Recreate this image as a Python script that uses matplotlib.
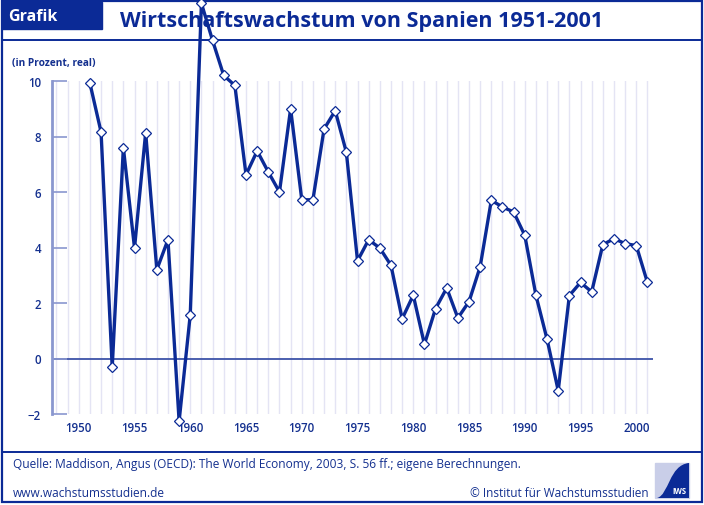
import matplotlib
matplotlib.use("Agg")
import matplotlib.pyplot as plt
from matplotlib.patches import Rectangle, PathPatch
from matplotlib.path import Path

plt.rcParams['font.family'] = ['Open Sans', 'DejaVu Sans']

years = list(range(1951, 2002))
growth = [9.92, 8.16, -0.32, 7.60, 3.98, 8.14, 3.20, 4.28, -2.26, 1.58,
          12.8, 11.46, 10.2, 9.84, 6.62, 7.48, 6.72, 6.0, 9.0, 5.72,
          5.72, 8.27, 8.93, 7.43, 3.52, 4.28, 3.98, 3.36, 1.43, 2.28,
          0.51, 1.80, 2.54, 1.46, 2.05, 3.31, 5.70, 5.46, 5.28, 4.44,
          2.28, 0.69, -1.16, 2.27, 2.74, 2.40, 4.10, 4.32, 4.14, 4.07,
          2.74]
grid_years = list(range(1948, 2002))
xticks = list(range(1950, 2001, 5))
yticks = [-2, 0, 2, 4, 6, 8, 10]

W, H = 704, 506
dark = '#0b2a96'
text_c = '#14308f'
light = '#8a97cf'

fig = plt.figure(figsize=(W / 100, H / 100), dpi=100)

# overlay for frame, header, footer
ov = fig.add_axes([0, 0, 1, 1], zorder=0)
ov.set_xlim(0, W)
ov.set_ylim(H, 0)
ov.axis('off')
ov.add_patch(Rectangle((1.5, 1.5), W - 3.5, H - 4.5, fill=False, ec=dark, lw=1.6))
ov.plot([1.5, W - 2], [40.5, 40.5], color=dark, lw=1.4)
ov.plot([1.5, W - 2], [452.5, 452.5], color=dark, lw=1.4)
ov.add_patch(Rectangle((1.5, 3), 100, 27, color=dark))
ov.text(8, 17, 'Grafik', color='white', fontsize=11.5, fontweight='bold', va='center')
ov.text(362, 21, 'Wirtschaftswachstum von Spanien 1951-2001', color=dark,
        fontsize=15.5, fontweight='bold', ha='center', va='center')
ov.text(12, 63, '(in Prozent, real)', color=text_c, fontsize=7.3, fontweight='bold', va='center')
ov.text(13, 465, 'Quelle: Maddison, Angus (OECD): The World Economy, 2003, S. 56 ff.; eigene Berechnungen.',
        color=text_c, fontsize=8.6, va='center')
ov.text(13, 494, 'www.wachstumsstudien.de', color=text_c, fontsize=8.6, va='center')
ov.text(649, 494, '\u00a9 Institut f\u00fcr Wachstumsstudien', color=text_c, fontsize=8.5,
        va='center', ha='right')

# logo
lx0, lx1, ly0, ly1 = 655, 689, 464, 499
ov.add_patch(Rectangle((lx0, ly0), lx1 - lx0, ly1 - ly0, color='#c9cee8'))
verts = [(lx0 + 2, ly1), (lx0 + 14, ly1 - 3), (lx0 + 14, ly0 + 2), (lx1, ly0),
         (lx1, ly1), (lx0 + 2, ly1)]
codes = [Path.MOVETO, Path.CURVE4, Path.CURVE4, Path.CURVE4, Path.LINETO, Path.CLOSEPOLY]
ov.add_patch(PathPatch(Path(verts, codes), color=dark, lw=0))
ov.text(679, 492, 'IWS', color='white', fontsize=5.5, fontweight='bold', ha='center', va='center')

# main chart
ax = fig.add_axes([52 / W, 1 - 415 / H, (653 - 52) / W, (415 - 82) / H], zorder=2)
ax.set_facecolor('none')
ax.set_xlim(1947.6, 2001.5)
ax.set_ylim(-2, 10)
for g in grid_years:
    ax.axvline(g, color='#e4e4f4', lw=1, zorder=0)
ax.axhline(0, color='#3d53a8', lw=1.3, zorder=1)
ax.plot(years, growth, color=dark, lw=2.4, marker='D', ms=5.2, mfc='white',
        mec=dark, mew=0.9, clip_on=False, zorder=3)

for s in ['top', 'right', 'bottom']:
    ax.spines[s].set_visible(False)
ax.spines['left'].set_color(light)
ax.spines['left'].set_linewidth(2)
ax.set_yticks(yticks)
ax.set_xticks(xticks)
ax.tick_params(axis='y', direction='in', length=10.5, width=1.2, color=light,
               labelcolor=text_c, labelsize=8.3, pad=8)
ax.tick_params(axis='x', length=0, labelcolor=text_c, labelsize=8.3, pad=5)
for lab in ax.get_xticklabels() + ax.get_yticklabels():
    lab.set_fontweight('semibold')

fig.savefig('out.png', dpi=100)
